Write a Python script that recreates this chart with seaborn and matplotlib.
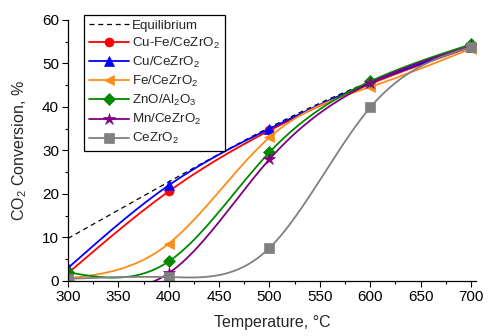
import numpy as np
import seaborn as sns
import matplotlib.pyplot as plt
from matplotlib.ticker import MultipleLocator

TEMPERATURES = [300, 400, 500, 600, 700]

EQUILIBRIUM = [9.8, 22.8, 35.3, 45.8, 53.9]
CU_FE = [1.8, 20.6, 34.6, 45.3, 53.8]
CU = [3.0, 22.0, 35.0, 45.6, 53.9]
FE = [0.6, 8.6, 33.0, 44.6, 53.4]
ZNO = [2.0, 4.5, 29.6, 45.9, 54.4]
MN = [0.2, 1.8, 28.0, 45.5, 54.0]
CEZRO = [0.5, 0.9, 7.6, 39.9, 53.8]

SERIES = [
    ("Cu-Fe/CeZrO$_2$", CU_FE, "#ff0000", "o"),
    ("Cu/CeZrO$_2$", CU, "#0000ff", "^"),
    ("Fe/CeZrO$_2$", FE, "#ff8c1a", "<"),
    ("ZnO/Al$_2$O$_3$", ZNO, "#008a00", "D"),
    ("Mn/CeZrO$_2$", MN, "#800080", "*"),
    ("CeZrO$_2$", CEZRO, "#808080", "s"),
]


def natural_spline(x, y, xs):
    # natural cubic spline, like Origin's spline connector
    x = np.asarray(x, float)
    y = np.asarray(y, float)
    n = len(x)
    h = np.diff(x)
    A = np.zeros((n, n))
    b = np.zeros(n)
    A[0, 0] = A[-1, -1] = 1
    for i in range(1, n - 1):
        A[i, i - 1] = h[i - 1]
        A[i, i] = 2 * (h[i - 1] + h[i])
        A[i, i + 1] = h[i]
        b[i] = 6 * ((y[i + 1] - y[i]) / h[i] - (y[i] - y[i - 1]) / h[i - 1])
    m = np.linalg.solve(A, b)
    idx = np.clip(np.searchsorted(x, xs) - 1, 0, n - 2)
    x0, x1 = x[idx], x[idx + 1]
    hh = x1 - x0
    t0, t1 = x1 - xs, xs - x0
    return (m[idx] * t0**3 / (6 * hh) + m[idx + 1] * t1**3 / (6 * hh)
            + (y[idx] / hh - m[idx] * hh / 6) * t0
            + (y[idx + 1] / hh - m[idx + 1] * hh / 6) * t1)


def main() -> None:
    sns.set_theme(style="ticks")
    plt.rcParams["font.family"] = ["Liberation Sans", "DejaVu Sans"]
    plt.rcParams["mathtext.fontset"] = "custom"
    plt.rcParams["mathtext.rm"] = "Liberation Sans"
    plt.rcParams["mathtext.it"] = "Liberation Sans"

    fig = plt.figure(figsize=(4.91, 3.36), dpi=100)
    ax = fig.add_axes([0.1385, 0.1637, 0.831, 0.7768])

    xs = np.linspace(300, 700, 401)

    sns.lineplot(x=xs, y=natural_spline(TEMPERATURES, EQUILIBRIUM, xs),
                 color="black", linestyle=(0, (4, 3)), linewidth=0.9,
                 label="Equilibrium", ax=ax)

    for name, values, color, marker in SERIES:
        size = 9 if marker == "*" else 6.5
        sns.lineplot(x=xs, y=natural_spline(TEMPERATURES, values, xs),
                     color=color, linewidth=1.3, marker=marker,
                     markevery=100, markersize=size, markeredgewidth=0.5,
                     markeredgecolor=color, label=name, ax=ax)

    ax.set_xlim(300, 705)
    ax.set_ylim(0, 60)
    ax.xaxis.set_major_locator(MultipleLocator(50))
    ax.xaxis.set_minor_locator(MultipleLocator(25))
    ax.yaxis.set_major_locator(MultipleLocator(10))
    ax.yaxis.set_minor_locator(MultipleLocator(5))
    ax.tick_params(axis="both", which="major", labelsize=11, length=4,
                   width=0.8, colors="black", pad=2.5)
    ax.tick_params(axis="both", which="minor", length=2.5, width=0.8,
                   colors="black")
    for sp in ("left", "bottom"):
        ax.spines[sp].set_color("black")
        ax.spines[sp].set_linewidth(0.9)
    sns.despine(ax=ax)

    ax.set_xlabel("Temperature, °C", fontsize=11.5, labelpad=8)
    ax.set_ylabel("CO$_2$ Conversion, %", fontsize=11.5, labelpad=9)

    leg = ax.legend(loc="upper left", bbox_to_anchor=(0.04, 1.02),
                    fontsize=9.6, frameon=True, fancybox=False,
                    edgecolor="black", framealpha=1, handlelength=3.0,
                    handletextpad=0.25, labelspacing=0.3, borderpad=0.35,
                    borderaxespad=0)
    leg.get_frame().set_linewidth(0.9)

    fig.savefig("out.png", dpi=100)


if __name__ == "__main__":
    main()
